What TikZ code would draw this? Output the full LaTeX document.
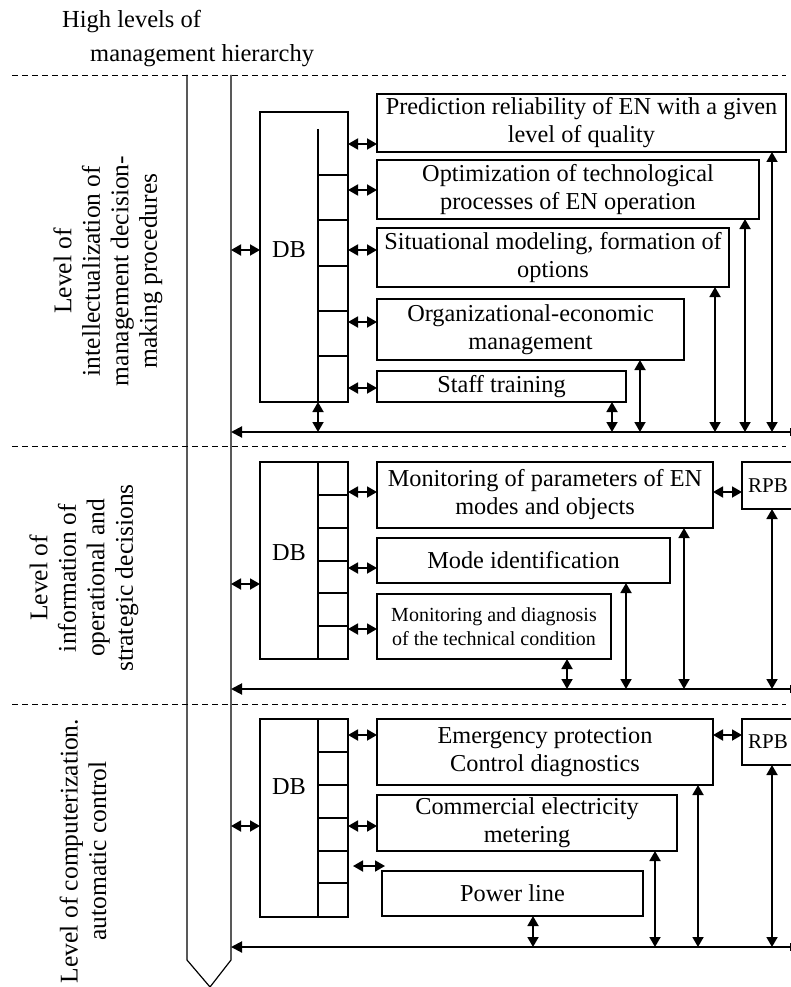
\documentclass[tikz,border=0pt]{standalone}
\usepackage{fontspec}
\setmainfont{Liberation Serif}
\usetikzlibrary{arrows.meta,calc}
\begin{document}
\begin{tikzpicture}[x=1pt,y=-1pt,
  box/.style={draw, line width=1.1pt, rectangle, inner sep=0pt, outer sep=0pt, anchor=north west, align=center, font=\fontsize{24.3}{28}\selectfont},
  smallbox/.style={box, font=\fontsize{20}{24}\selectfont},
  rpbbox/.style={box, font=\fontsize{21}{24}\selectfont},
  dbbox/.style={draw, line width=1.1pt, rectangle, inner sep=0pt, outer sep=0pt, anchor=north west},
  dbtext/.style={font=\fontsize{24.3}{28}\selectfont, inner sep=0pt},
  divider/.style={line width=1.1pt},
  dbl/.style={{Triangle[length=10pt,width=11pt]}-{Triangle[length=10pt,width=11pt]}, line width=1.8pt},
  vdbl/.style={{Triangle[length=10pt,width=11pt]}-{Triangle[length=10pt,width=11pt]}, line width=1.8pt},
  bus/.style={-{Triangle[length=11pt,width=11pt]}, line width=2pt},
  level/.style={dashed, dash pattern=on 6pt off 4pt, line width=0.9pt},
  channel/.style={line width=1.2pt},
  side/.style={rotate=90, align=center, font=\fontsize{25.5}{28.5}\selectfont, inner sep=0pt},
  toptext/.style={anchor=base west, inner sep=0pt, font=\fontsize{24.5}{28}\selectfont}
]
\useasboundingbox (0,0) rectangle (791,987);

% top text
\node[toptext] (t1) at (62,28) {High levels of};
\node[toptext] (t2) at (90,62) {management hierarchy};

% level separators
\draw[level] (12,75) -- (786,75);
\draw[level] (12,446) -- (786,446);
\draw[level] (12,704) -- (786,704);

% channel
\coordinate (chL) at (187,75);
\coordinate (chR) at (231,75);
\coordinate (chTip) at (210,987);
\draw[channel] (chL) -- (187,960) -- (chTip) -- (231,960) -- (chR);

% side labels
\node[side] (L1) at (108,271) {Level of\\intellectualization of\\management decision-\\making procedures};
\node[side] (L2) at (84,578) {Level of\\information of\\operational and\\strategic decisions};
\node[side] (L3) at (83,851) {Level of computerization.\\automatic control};

% ===== Section 1 =====
\node[dbbox, minimum width=88, minimum height=290] (db1) at (260,112) {};
\node[dbtext] (db1t) at (289,250) {DB};
\draw[divider] (318,129) -- (db1.south -| 318,0);
\foreach \y in {175,220,266,311,356} \draw[divider] (318,\y) -- (db1.east |- 0,\y);

\node[box, minimum width=409, minimum height=58] (p1) at (377,94) {Prediction reliability of EN with a given\\level of quality};
\node[box, minimum width=382, minimum height=59] (p2) at (377,160) {Optimization of technological\\processes of EN operation};
\node[box, minimum width=352, minimum height=59] (p3) at (377,228) {Situational modeling, formation of\\options};
\node[box, minimum width=307, minimum height=61] (p4) at (377,299) {Organizational-economic\\management};
\node[box, minimum width=249, minimum height=31] (p5) at (377,371) {Staff training};

\draw[dbl] (chR |- 0,250) -- (db1.west |- 0,250);
\draw[dbl] (db1.east |- 0,144) -- (p1.west |- 0,144);
\draw[dbl] (db1.east |- 0,190) -- (p2.west |- 0,190);
\draw[dbl] (db1.east |- 0,250) -- (p3.west |- 0,250);
\draw[dbl] (db1.east |- 0,322) -- (p4.west |- 0,322);
\draw[dbl] (db1.east |- 0,388) -- (p5.west |- 0,388);

\coordinate (b1L) at (231,432);
\coordinate (b1R) at (790,432);
\draw[bus] (b1R) -- (b1L);
\draw[line width=1pt] ($(b1R)+(0,-4)$) -- ($(b1R)+(0,4)$);
\draw[vdbl] (db1.south -| 318,0) -- (b1L -| 318,0);
\draw[vdbl] (p5.south -| 612,0) -- (b1L -| 612,0);
\draw[vdbl] (p4.south -| 640,0) -- (b1L -| 640,0);
\draw[vdbl] (p3.south -| 715,0) -- (b1L -| 715,0);
\draw[vdbl] (p2.south -| 745,0) -- (b1L -| 745,0);
\draw[vdbl] (p1.south -| 772,0) -- (b1L -| 772,0);

% ===== Section 2 =====
\node[dbbox, minimum width=88, minimum height=197] (db2) at (260,462) {};
\node[dbtext] (db2t) at (289,553) {DB};
\draw[divider] (db2.north -| 318,0) -- (db2.south -| 318,0);
\foreach \y in {495,528,561,593,626} \draw[divider] (318,\y) -- (db2.east |- 0,\y);

\node[box, minimum width=336, minimum height=66] (m1) at (377,462) {Monitoring of parameters of EN\\modes and objects};
\node[box, minimum width=293, minimum height=45] (m2) at (377,538) {Mode identification};
\node[smallbox, minimum width=234, minimum height=65] (m3) at (377,594) {Monitoring and diagnosis\\of the technical condition};
\node[rpbbox, minimum width=52, minimum height=47] (r2) at (742,462) {RPB};

\draw[dbl] (chR |- 0,584) -- (db2.west |- 0,584);
\draw[dbl] (db2.east |- 0,492) -- (m1.west |- 0,492);
\draw[dbl] (db2.east |- 0,568) -- (m2.west |- 0,568);
\draw[dbl] (db2.east |- 0,629) -- (m3.west |- 0,629);
\draw[dbl] (m1.east |- 0,492) -- (r2.west |- 0,492);

\coordinate (b2L) at (231,689);
\coordinate (b2R) at (790,689);
\draw[bus] (b2R) -- (b2L);
\draw[line width=1pt] ($(b2R)+(0,-4)$) -- ($(b2R)+(0,4)$);
\draw[vdbl] (m3.south -| 567,0) -- (b2L -| 567,0);
\draw[vdbl] (m2.south -| 626,0) -- (b2L -| 626,0);
\draw[vdbl] (m1.south -| 684,0) -- (b2L -| 684,0);
\draw[vdbl] (r2.south -| 772,0) -- (b2L -| 772,0);

% ===== Section 3 =====
\node[dbbox, minimum width=88, minimum height=198] (db3) at (260,719) {};
\node[dbtext] (db3t) at (289,787) {DB};
\draw[divider] (db3.north -| 318,0) -- (db3.south -| 318,0);
\foreach \y in {752,785,818,851,883} \draw[divider] (318,\y) -- (db3.east |- 0,\y);

\node[box, minimum width=336, minimum height=66] (e1) at (377,719) {Emergency protection\\Control diagnostics};
\node[box, minimum width=300, minimum height=56] (e2) at (377,795) {Commercial electricity\\metering};
\node[box, minimum width=261, minimum height=45] (e3) at (382,871) {Power line};
\node[rpbbox, minimum width=52, minimum height=46] (r3) at (742,719) {RPB};

\draw[dbl] (chR |- 0,826) -- (db3.west |- 0,826);
\draw[dbl] (db3.east |- 0,735) -- (e1.west |- 0,735);
\draw[dbl] (db3.east |- 0,826) -- (e2.west |- 0,826);
\draw[dbl] ($(e3.north west)+(-29,-5)$) -- ($(e3.north west)+(3,-5)$);
\draw[dbl] (e1.east |- 0,735) -- (r3.west |- 0,735);

\coordinate (b3L) at (231,947);
\coordinate (b3R) at (790,947);
\draw[bus] (b3R) -- (b3L);
\draw[line width=1pt] ($(b3R)+(0,-4)$) -- ($(b3R)+(0,4)$);
\draw[vdbl] (e3.south -| 533,0) -- (b3L -| 533,0);
\draw[vdbl] (e2.south -| 655,0) -- (b3L -| 655,0);
\draw[vdbl] (e1.south -| 698,0) -- (b3L -| 698,0);
\draw[vdbl] (r3.south -| 772,0) -- (b3L -| 772,0);
\end{tikzpicture}
\end{document}
